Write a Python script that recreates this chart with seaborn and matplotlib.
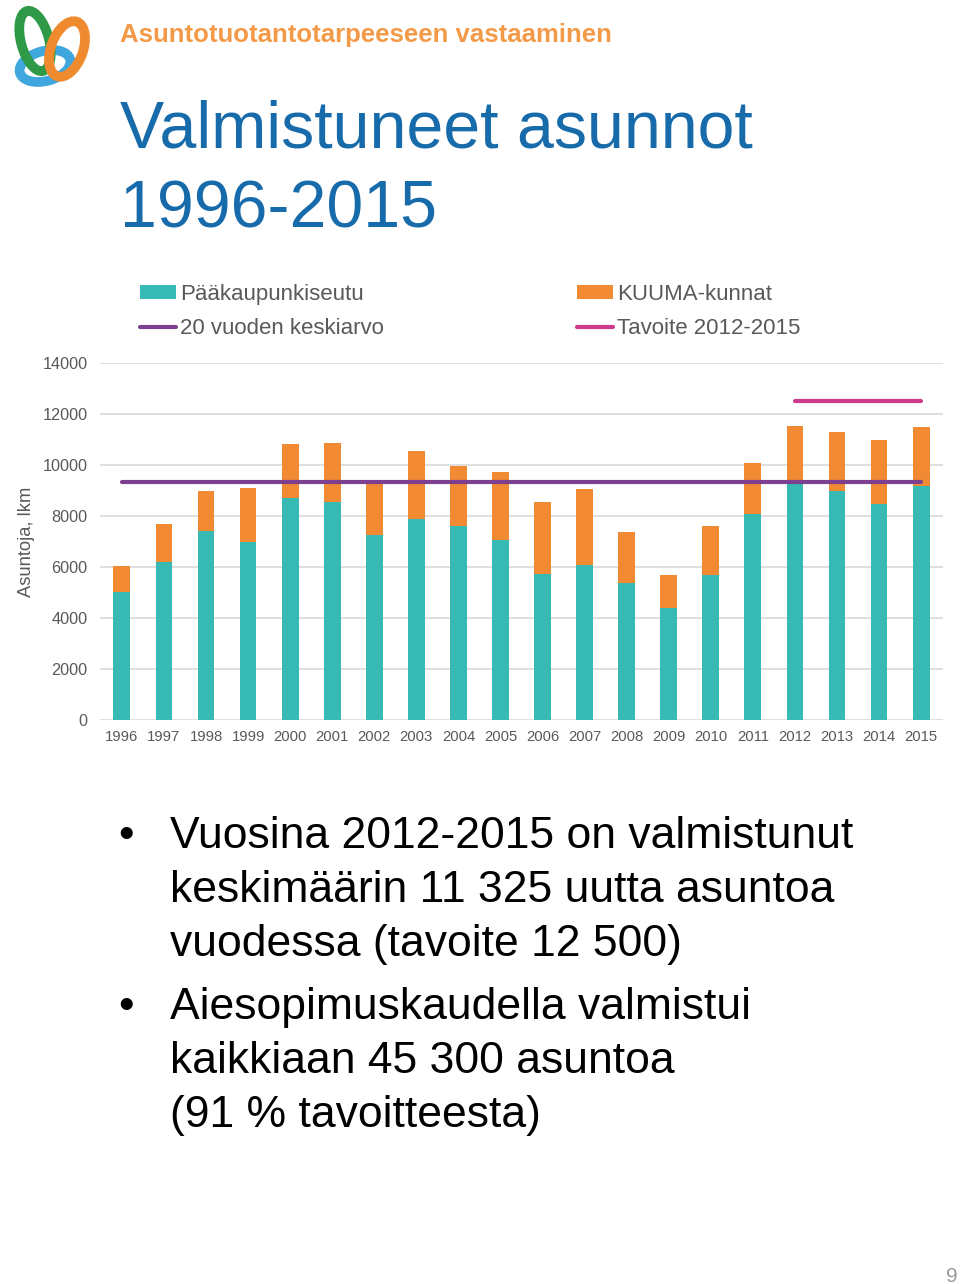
import numpy as np
import pandas as pd
import matplotlib
matplotlib.use("Agg")
import matplotlib.pyplot as plt
import seaborn as sns
from matplotlib.patches import Patch, Ellipse
from matplotlib.lines import Line2D

# ---------------- data ----------------
years = [str(y) for y in range(1996, 2016)]
paakaupunkiseutu = [5030, 6210, 7410, 6970, 8720, 8540, 7240, 7870, 7610, 7070,
                    5740, 6080, 5370, 4390, 5690, 8090, 9280, 8980, 8480, 9180]
kuuma_kunnat = [1010, 1490, 1560, 2130, 2100, 2320, 2050, 2680, 2350, 2670,
                2800, 2980, 2020, 1300, 1920, 1990, 2250, 2310, 2490, 2300]
keskiarvo_20v = 9350
tavoite = 12500
tavoite_years = ["2012", "2013", "2014", "2015"]
yticks = [0, 2000, 4000, 6000, 8000, 10000, 12000, 14000]

legend_labels = ["Pääkaupunkiseutu", "20 vuoden keskiarvo", "KUUMA-kunnat", "Tavoite 2012-2015"]
subtitle = "Asuntotuotantotarpeeseen vastaaminen"
title_lines = ["Valmistuneet asunnot", "1996-2015"]
bullets = [
    ["Vuosina 2012-2015 on valmistunut", "keskimäärin 11 325 uutta asuntoa", "vuodessa (tavoite 12 500)"],
    ["Aiesopimuskaudella valmistui", "kaikkiaan 45 300 asuntoa", "(91 % tavoitteesta)"],
]

TEAL = "#37BAB3"
ORANGE = "#F18A33"
PURPLE = "#7D3F8F"
PINK = "#CE3B8E"
BLUE = "#176BAA"
SUBORANGE = "#F39A48"
GRAY = "#595959"
GRID = "#D9D9D9"

df = pd.DataFrame({"year": years,
                   "paak": paakaupunkiseutu,
                   "kuuma": kuuma_kunnat})
df["total"] = df["paak"] + df["kuuma"]

# ---------------- figure ----------------
sns.set_theme(style="white")
plt.rcParams["font.family"] = ["Liberation Sans", "DejaVu Sans"]

W, H = 960, 1284
fig = plt.figure(figsize=(W / 100, H / 100), dpi=100)
fig.patch.set_facecolor("white")


def fx(x):
    return x / W


def fy(y):
    return 1 - y / H


ax = fig.add_axes([fx(100), fy(720), fx(943) - fx(100), fy(363) - fy(720)])

sns.barplot(data=df, x="year", y="total", color=ORANGE, saturation=1,
            width=0.4, errorbar=None, linewidth=0, ax=ax)
sns.barplot(data=df, x="year", y="paak", color=TEAL, saturation=1,
            width=0.4, errorbar=None, linewidth=0, ax=ax)

xi = np.arange(len(years))
ax.plot(xi, [keskiarvo_20v] * len(years), color=PURPLE, lw=3.0,
        solid_capstyle="round", zorder=5)
ti = [years.index(y) for y in tavoite_years]
ax.plot(ti, [tavoite] * len(ti), color=PINK, lw=3.0,
        solid_capstyle="round", zorder=5)

ax.set_xlim(-0.52, len(years) - 0.48)
ax.set_ylim(0, 14000)
ax.set_yticks(yticks)
ax.set_yticklabels([str(v) for v in yticks])
ax.yaxis.grid(True, color=GRID, lw=1.2)
ax.xaxis.grid(False)
ax.set_axisbelow(True)
for s in ax.spines.values():
    s.set_visible(False)
ax.tick_params(axis="both", length=0, colors=GRAY)
ax.tick_params(axis="y", labelsize=11.7, pad=9)
ax.tick_params(axis="x", labelsize=10.7, pad=7)
ax.set_xlabel("")
ax.set_ylabel("Asuntoja, lkm", fontsize=13.2, color=GRAY)
ax.yaxis.set_label_coords(-0.077, 0.5)

# legend
handles = [Patch(facecolor=TEAL, edgecolor="none"),
           Line2D([0], [0], color=PURPLE, lw=3),
           Patch(facecolor=ORANGE, edgecolor="none"),
           Line2D([0], [0], color=PINK, lw=3)]
leg = fig.legend(handles, legend_labels, ncol=2, loc="upper left",
                 bbox_to_anchor=(fx(140), fy(284)), frameon=False,
                 fontsize=16, borderpad=0, borderaxespad=0,
                 handlelength=1.62, handleheight=0.55, handletextpad=0.18,
                 columnspacing=8.7, labelspacing=0.58)
for t in leg.get_texts():
    t.set_color(GRAY)

# ---------------- texts ----------------
fig.canvas.draw()
renderer = fig.canvas.get_renderer()


def fit(t, target_px):
    w = t.get_window_extent(renderer).width
    t.set_fontsize(t.get_fontsize() * target_px / w)


st = fig.text(fx(120), fy(42), subtitle, color=SUBORANGE, fontsize=18,
              fontweight="bold", va="baseline", ha="left")
fit(st, 490)

t1 = fig.text(fx(120), fy(148), title_lines[0], color=BLUE, fontsize=48,
              va="baseline", ha="left")
fit(t1, 633)
t2 = fig.text(fx(120), fy(228), title_lines[1], color=BLUE,
              fontsize=t1.get_fontsize(), va="baseline", ha="left")

bullet_baselines = [[848, 902, 956], [1019, 1073, 1127]]
b0 = fig.text(fx(170), fy(848), bullets[0][0], color="black", fontsize=32,
              va="baseline", ha="left")
fit(b0, 685)
bsize = b0.get_fontsize()
b0.remove()
for lines, bases in zip(bullets, bullet_baselines):
    fig.text(fx(118), fy(bases[0]), "•", color="black", fontsize=bsize,
             va="baseline", ha="left")
    for line, b in zip(lines, bases):
        fig.text(fx(170), fy(b), line, color="black", fontsize=bsize,
                 va="baseline", ha="left")

fig.text(fx(958), fy(1282), "9", color="#9A9A9A", fontsize=15,
         va="baseline", ha="right")

# ---------------- logo (decoration) ----------------
lax = fig.add_axes([fx(5), fy(93), fx(95) - fx(5), fy(3) - fy(93)])
lax.set_xlim(0, 90)
lax.set_ylim(90, 0)
lax.set_aspect("equal")
lax.axis("off")
lax.add_patch(Ellipse((40, 63), 52, 30, angle=-15, fill=False,
                      edgecolor="#3FA7DD", lw=7))
lax.add_patch(Ellipse((30, 38), 28, 62, angle=-15, fill=False,
                      edgecolor="#2E9A47", lw=7))
lax.add_patch(Ellipse((62, 46), 32, 58, angle=20, fill=False,
                      edgecolor="#F08A2E", lw=7))

fig.savefig("out.png", dpi=100, facecolor="white")
